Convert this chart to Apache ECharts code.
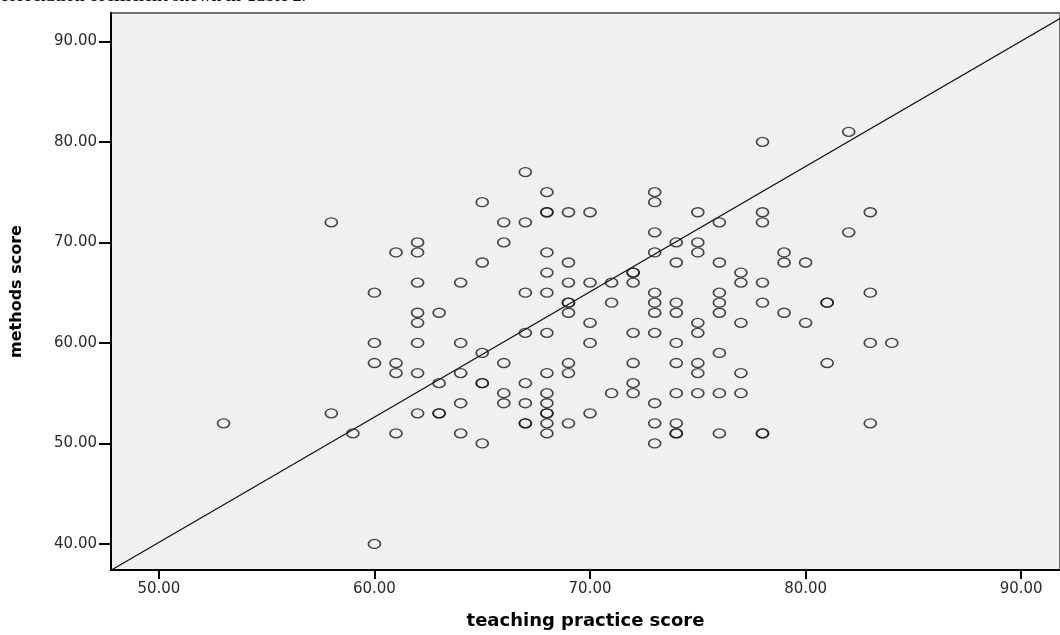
<!DOCTYPE html>
<html>
<head>
<meta charset="utf-8">
<script src="https://cdn.jsdelivr.net/npm/echarts@6/dist/echarts.min.js"></script>
<style>
  html, body { margin: 0; padding: 0; background: #ffffff; }
  #chart { width: 1060px; height: 635px; }
</style>
</head>
<body>
<div id="chart"></div>
<script>
// ---- data ----
const teachingScores = [
  53,
  58, 58,
  59,
  60, 60, 60, 60,
  61, 61, 61, 61,
  62, 62, 62, 62, 62, 62, 62, 62,
  63, 63, 63, 63,
  64, 64, 64, 64, 64,
  65, 65, 65, 65, 65, 65,
  66, 66, 66, 66, 66,
  67, 67, 67, 67, 67, 67, 67, 67,
  68, 68, 68, 68, 68, 68, 68, 68, 68, 68, 68, 68, 68, 68,
  69, 69, 69, 69, 69, 69, 69, 69, 69,
  70, 70, 70, 70, 70,
  71, 71, 71,
  72, 72, 72, 72, 72, 72, 72,
  73, 73, 73, 73, 73, 73, 73, 73, 73, 73, 73,
  74, 74, 74, 74, 74, 74, 74, 74, 74, 74,
  75, 75, 75, 75, 75, 75, 75, 75,
  76, 76, 76, 76, 76, 76, 76, 76,
  77, 77, 77, 77, 77,
  78, 78, 78, 78, 78, 78, 78,
  79, 79, 79,
  80, 80,
  81, 81, 81,
  82, 82,
  83, 83, 83, 83,
  84
];
const methodsScores = [
  52,
  72, 53,
  51,
  65, 60, 58, 40,
  69, 58, 57, 51,
  70, 69, 66, 63, 62, 60, 57, 53,
  63, 56, 53, 53,
  66, 60, 57, 54, 51,
  74, 68, 59, 56, 56, 50,
  72, 70, 58, 55, 54,
  77, 72, 65, 61, 56, 54, 52, 52,
  75, 73, 73, 69, 67, 65, 61, 57, 55, 54, 53, 53, 52, 51,
  73, 68, 66, 64, 64, 63, 58, 57, 52,
  73, 66, 62, 60, 53,
  66, 64, 55,
  67, 67, 66, 61, 58, 56, 55,
  75, 74, 71, 69, 65, 64, 63, 61, 54, 52, 50,
  70, 68, 64, 63, 60, 58, 55, 52, 51, 51,
  73, 70, 69, 62, 61, 58, 57, 55,
  72, 68, 65, 64, 63, 59, 55, 51,
  67, 66, 62, 57, 55,
  80, 73, 72, 66, 64, 51, 51,
  69, 68, 63,
  68, 62,
  64, 64, 58,
  81, 71,
  73, 65, 60, 52,
  60
];
const xTickValues = [50, 60, 70, 80, 90];
const yTickValues = [40, 50, 60, 70, 80, 90];
const refLineSlope = 1.247;
const refLineIntercept = -22.2;
const xAxisTitle = 'teaching practice score';
const yAxisTitle = 'methods score';
const topTextFragment = 'correlation coefficient shown in Table 2.';

// ---- axis extents ----
const xMin = 47.78, xMax = 91.80;
const yMin = 37.41, yMax = 92.82;

const points = teachingScores.map((x, i) => [x, methodsScores[i]]);
const refLine = [
  [xMin, refLineSlope * xMin + refLineIntercept],
  [xMax, refLineSlope * xMax + refLineIntercept]
];

const labelFont = { fontFamily: 'DejaVu Sans', fontSize: 15, color: '#2a2a2a' };

const chart = echarts.init(document.getElementById('chart'), null, { renderer: 'canvas' });
chart.setOption({
  animation: false,
  backgroundColor: '#ffffff',
  graphic: [{
    type: 'text',
    left: 0,
    top: -13,
    style: {
      text: topTextFragment,
      font: 'bold 18px "Liberation Serif"',
      fill: '#111'
    }
  }],
  grid: {
    left: 111, top: 13, right: -2, bottom: 59,
    show: true,
    backgroundColor: '#f0f0f0',
    borderColor: '#707070',
    borderWidth: 2
  },
  xAxis: {
    type: 'value',
    min: xMin, max: xMax,
    splitLine: { show: false },
    axisLine: { show: true, onZero: false, lineStyle: { color: '#000', width: 2 } },
    axisTick: { show: true, length: 9, customValues: xTickValues, lineStyle: { color: '#000', width: 2 } },
    axisLabel: Object.assign({ margin: 12, customValues: xTickValues, formatter: v => v.toFixed(2) }, labelFont),
    name: xAxisTitle,
    nameLocation: 'middle',
    nameGap: 42,
    nameTextStyle: { fontFamily: 'DejaVu Sans', fontWeight: 'bold', fontSize: 18, color: '#000' }
  },
  yAxis: {
    type: 'value',
    min: yMin, max: yMax,
    splitLine: { show: false },
    axisLine: { show: true, onZero: false, lineStyle: { color: '#000', width: 2 } },
    axisTick: { show: true, length: 12, customValues: yTickValues, lineStyle: { color: '#000', width: 2 } },
    axisLabel: Object.assign({ margin: 14, customValues: yTickValues, formatter: v => v.toFixed(2) }, labelFont),
    name: yAxisTitle,
    nameLocation: 'middle',
    nameGap: 86,
    nameRotate: 90,
    nameTextStyle: { fontFamily: 'DejaVu Sans', fontWeight: 'bold', fontSize: 16, color: '#000' }
  },
  series: [
    {
      type: 'line',
      data: refLine,
      symbol: 'none',
      silent: true,
      lineStyle: { color: '#111', width: 1.2 },
      z: 2
    },
    {
      type: 'scatter',
      data: points,
      symbol: 'circle',
      symbolSize: [12, 9],
      itemStyle: { color: 'rgba(0,0,0,0)', borderColor: '#1a1a1a', borderWidth: 1.5 },
      z: 3
    }
  ]
});
</script>
</body>
</html>
